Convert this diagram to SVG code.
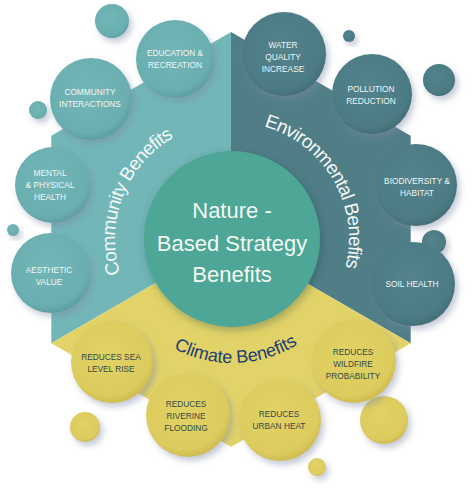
<svg xmlns="http://www.w3.org/2000/svg" xmlns:xlink="http://www.w3.org/1999/xlink" width="474" height="500" viewBox="0 0 474 500">
<defs>
<filter id="sh" x="-30%" y="-30%" width="170%" height="170%">
<feDropShadow dx="3" dy="4" stdDeviation="3" flood-color="#7f8aa3" flood-opacity="0.45"/>
</filter>
<filter id="shc" x="-20%" y="-20%" width="140%" height="140%">
<feDropShadow dx="2" dy="3" stdDeviation="4" flood-color="#1f3b40" flood-opacity="0.35"/>
</filter>
<radialGradient id="gc" cx="45%" cy="40%" r="60%">
<stop offset="0" stop-color="#72b6b8"/><stop offset="0.85" stop-color="#6aaeb0"/><stop offset="1" stop-color="#5f9fa2"/>
</radialGradient>
<radialGradient id="ge" cx="45%" cy="40%" r="60%">
<stop offset="0" stop-color="#53838c"/><stop offset="0.85" stop-color="#4c7b84"/><stop offset="1" stop-color="#436f78"/>
</radialGradient>
<radialGradient id="gy" cx="45%" cy="40%" r="60%">
<stop offset="0" stop-color="#e2d366"/><stop offset="0.85" stop-color="#dccb5d"/><stop offset="1" stop-color="#cfbd52"/>
</radialGradient>
<path id="arcC" d="M140.4,311.8 A117,117 0 0 1 214.7,123.3"/>
<path id="arcE" d="M232,122 A117,117 0 0 1 333.3,297.5"/>
<path id="arcY" d="M126.8,304.7 A124,124 0 0 0 341.5,297.2"/>
</defs>
<style>
.bc{fill:url(#gc);filter:url(#sh)}
.be{fill:url(#ge);filter:url(#sh)}
.by{fill:url(#gy);filter:url(#sh)}
.t{font-family:"Liberation Sans",Arial,sans-serif;font-size:8.3px;fill:#f2f6f4;text-anchor:middle}
.ty{font-family:"Liberation Sans",Arial,sans-serif;font-size:8.3px;fill:#34484a;text-anchor:middle}
.arc{font-family:"Liberation Sans",Arial,sans-serif;font-size:19px;fill:#f4f8f6}
.main{font-family:"Liberation Sans",Arial,sans-serif;font-size:22px;fill:#f4f8f2;text-anchor:middle}
</style>
<rect width="474" height="500" fill="#ffffff"/>

<g id="sectors">
<polygon points="231,239.5 231,32 51.3,135.75 51.3,343.25" fill="#72b6b8"/>
<polygon points="231,239.5 231,32 410.7,135.75 410.7,343.25" fill="#507e87"/>
<polygon points="231,239.5 51.3,343.25 231,447 410.7,343.25" fill="#e2d368"/>
</g>

<g id="community-bubbles">
<circle class="bc" cx="112" cy="21" r="17"/>
<circle class="bc" cx="38" cy="110" r="9"/>
<circle class="bc" cx="13" cy="230" r="6"/>
<g id="education"><circle class="bc" cx="175" cy="59" r="39"/><text class="t" x="175" y="56">EDUCATION &amp;</text><text class="t" x="175" y="68">RECREATION</text></g>
<g id="community-interactions"><circle class="bc" cx="91" cy="99" r="41"/><text class="t" x="90" y="95">COMMUNITY</text><text class="t" x="90" y="107">INTERACTIONS</text></g>
<g id="mental-health"><circle class="bc" cx="53" cy="185" r="38"/><text class="t" x="50" y="176">MENTAL</text><text class="t" x="50" y="188">&amp; PHYSICAL</text><text class="t" x="50" y="200">HEALTH</text></g>
<g id="aesthetic"><circle class="bc" cx="51" cy="273" r="40"/><text class="t" x="49" y="273">AESTHETIC</text><text class="t" x="49" y="285">VALUE</text></g>
</g>

<g id="environmental-bubbles">
<circle class="be" cx="349" cy="36" r="6"/>
<circle class="be" cx="439" cy="80" r="16"/>
<circle class="be" cx="434" cy="242" r="12"/>
<g id="water-quality"><circle class="be" cx="284" cy="54" r="42"/><text class="t" x="283" y="48">WATER</text><text class="t" x="283" y="60">QUALITY</text><text class="t" x="283" y="72">INCREASE</text></g>
<g id="pollution"><circle class="be" cx="372" cy="94" r="40"/><text class="t" x="371" y="92">POLLUTION</text><text class="t" x="371" y="104">REDUCTION</text></g>
<g id="biodiversity"><circle class="be" cx="416" cy="185" r="41"/><text class="t" x="417" y="184">BIODIVERSITY &amp;</text><text class="t" x="417" y="196">HABITAT</text></g>
<g id="soil-health"><circle class="be" cx="413" cy="284" r="42"/><text class="t" x="412" y="287">SOIL HEALTH</text></g>
</g>

<g id="climate-bubbles">
<circle class="by" cx="85" cy="427" r="15"/>
<circle class="by" cx="384" cy="420" r="24"/>
<circle class="by" cx="317" cy="467" r="9"/>
<g id="sea-level"><circle class="by" cx="112" cy="362" r="41"/><text class="ty" x="111" y="360">REDUCES SEA</text><text class="ty" x="111" y="372">LEVEL RISE</text></g>
<g id="riverine"><circle class="by" cx="188" cy="415" r="42"/><text class="ty" x="186" y="407">REDUCES</text><text class="ty" x="186" y="419">RIVERINE</text><text class="ty" x="186" y="431">FLOODING</text></g>
<g id="urban-heat"><circle class="by" cx="280" cy="420" r="41"/><text class="ty" x="279" y="417">REDUCES</text><text class="ty" x="279" y="429">URBAN HEAT</text></g>
<g id="wildfire"><circle class="by" cx="354" cy="361" r="42"/><text class="ty" x="353" y="355">REDUCES</text><text class="ty" x="353" y="367">WILDFIRE</text><text class="ty" x="353" y="379">PROBABILITY</text></g>
</g>

<g id="center">
<circle cx="232" cy="239" r="88" fill="#4ea696" filter="url(#shc)"/>
<text class="main" x="232" y="218">Nature -</text>
<text class="main" x="232" y="251">Based Strategy</text>
<text class="main" x="232" y="282">Benefits</text>
</g>

<g id="arc-labels">
<text class="arc"><textPath xlink:href="#arcC" startOffset="50%" text-anchor="middle" textLength="158" lengthAdjust="spacing">Community Benefits</textPath></text>
<text class="arc"><textPath xlink:href="#arcE" startOffset="50%" text-anchor="middle" textLength="180" lengthAdjust="spacing">Environmental Benefits</textPath></text>
<text class="arc" style="fill:#1f3d72;font-size:18px"><textPath xlink:href="#arcY" startOffset="50%" text-anchor="middle" textLength="130" lengthAdjust="spacing">Climate Benefits</textPath></text>
</g>
</svg>
